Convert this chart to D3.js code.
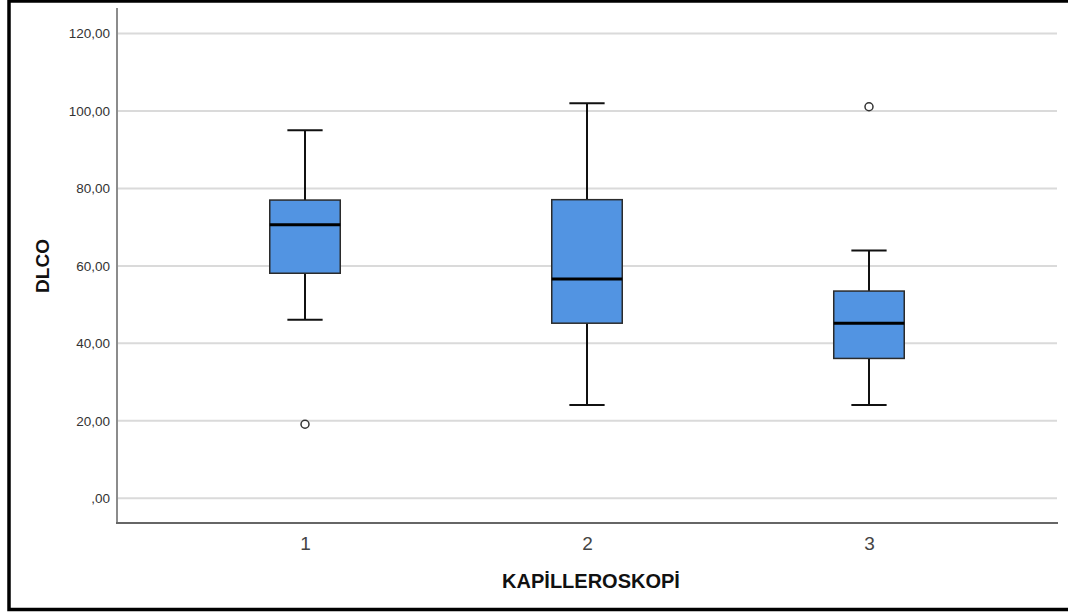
<!DOCTYPE html>
<html>
<head>
<meta charset="utf-8">
<script src="https://cdn.jsdelivr.net/npm/d3@7"></script>
<style>
    body { margin: 0; background: #fff; }
    svg { display: block; font-family: "Liberation Sans", Arial, sans-serif; }
</style>
</head>
<body>
<script>
// KAPİLLEROSKOPİ groups
var categories = ["1", "2", "3"];

// box plot summaries (DLCO)
var lowWhisker = [46.1, 24.1, 24.1];
var q1 = [58.1, 45.2, 36.1];
var median = [70.6, 56.6, 45.2];
var q3 = [77.0, 77.1, 53.5];
var highWhisker = [95.0, 102.0, 64.0];
var outliers = [[19.1], [], [101.1]];

var yTicks = [0, 20, 40, 60, 80, 100, 120];

var w = 1068,
    h = 612,
    plotLeft = 117,
    plotRight = 1057,
    plotTop = 8,
    plotBottom = 523;

var svg = d3.select("body").append("svg")
    .attr("width", w)
    .attr("height", h);

var xScale = d3.scalePoint()
    .domain(categories)
    .range([plotLeft, plotRight])
    .padding(0.6667);

var yScale = d3.scaleLinear()
    .domain([-6.4, 126.6])
    .range([plotBottom, plotTop]);

var boxW = xScale.step() * 0.25;

var commaFmt = d3.formatLocale({decimal: ",", thousands: ".", grouping: [3], currency: ["", ""]}).format(".2f");
function tickFmt(d) {
    var s = commaFmt(d);
    return s.indexOf("0,") === 0 ? s.substr(1) : s;
}

// grid
svg.append("g").selectAll("line")
    .data(yTicks)
    .enter().append("line")
    .attr("x1", plotLeft)
    .attr("x2", plotRight)
    .attr("y1", function (d) { return yScale(d); })
    .attr("y2", function (d) { return yScale(d); })
    .attr("stroke", "#dadada")
    .attr("stroke-width", 2);

// y axis
var yAxisGen = d3.axisLeft(yScale).tickValues(yTicks).tickFormat(tickFmt).tickSize(0).tickPadding(7);
var yAxis = svg.append("g")
    .attr("transform", "translate(" + plotLeft + ",0)")
    .call(yAxisGen);
yAxis.select(".domain").remove();
yAxis.selectAll("text")
    .attr("fill", "#333")
    .style("font-size", "13.5px");

svg.append("line")
    .attr("x1", plotLeft).attr("x2", plotLeft)
    .attr("y1", plotTop).attr("y2", plotBottom)
    .attr("stroke", "#8c8c8c")
    .attr("stroke-width", 2);

// x axis
var xAxisGen = d3.axisBottom(xScale).tickSize(0).tickPadding(14);
var xAxis = svg.append("g")
    .attr("transform", "translate(0," + plotBottom + ")")
    .call(xAxisGen);
xAxis.select(".domain").remove();
xAxis.selectAll("text")
    .attr("fill", "#444")
    .style("font-size", "19px");

svg.append("line")
    .attr("x1", plotLeft - 1).attr("x2", plotRight + 1)
    .attr("y1", plotBottom).attr("y2", plotBottom)
    .attr("stroke", "#666")
    .attr("stroke-width", 2);

// boxes
var groups = svg.append("g").selectAll("g")
    .data(categories)
    .enter().append("g");

// whisker stems
groups.append("line")
    .attr("x1", function (d) { return xScale(d); })
    .attr("x2", function (d) { return xScale(d); })
    .attr("y1", function (d, i) { return yScale(highWhisker[i]); })
    .attr("y2", function (d, i) { return yScale(q3[i]); })
    .attr("stroke", "#111").attr("stroke-width", 2);
groups.append("line")
    .attr("x1", function (d) { return xScale(d); })
    .attr("x2", function (d) { return xScale(d); })
    .attr("y1", function (d, i) { return yScale(q1[i]); })
    .attr("y2", function (d, i) { return yScale(lowWhisker[i]); })
    .attr("stroke", "#111").attr("stroke-width", 2);

// caps
[highWhisker, lowWhisker].forEach(function (arr) {
    groups.append("line")
        .attr("x1", function (d) { return xScale(d) - boxW / 4; })
        .attr("x2", function (d) { return xScale(d) + boxW / 4; })
        .attr("y1", function (d, i) { return yScale(arr[i]); })
        .attr("y2", function (d, i) { return yScale(arr[i]); })
        .attr("stroke", "#111").attr("stroke-width", 2);
});

groups.append("rect")
    .attr("x", function (d) { return xScale(d) - boxW / 2; })
    .attr("y", function (d, i) { return yScale(q3[i]); })
    .attr("width", boxW)
    .attr("height", function (d, i) { return yScale(q1[i]) - yScale(q3[i]); })
    .attr("fill", "#5294e2")
    .attr("stroke", "#2b2b2b")
    .attr("stroke-width", 1.5);

groups.append("line")
    .attr("x1", function (d) { return xScale(d) - boxW / 2; })
    .attr("x2", function (d) { return xScale(d) + boxW / 2; })
    .attr("y1", function (d, i) { return yScale(median[i]); })
    .attr("y2", function (d, i) { return yScale(median[i]); })
    .attr("stroke", "#000").attr("stroke-width", 3);

// outliers
groups.selectAll("circle")
    .data(function (d, i) { return outliers[i].map(function (v) { return {cat: d, v: v}; }); })
    .enter().append("circle")
    .attr("cx", function (d) { return xScale(d.cat); })
    .attr("cy", function (d) { return yScale(d.v); })
    .attr("r", 4)
    .attr("fill", "#fff")
    .attr("stroke", "#333")
    .attr("stroke-width", 1.5);

// titles
svg.append("text")
    .attr("x", (plotLeft + plotRight) / 2 + 4)
    .attr("y", 588)
    .attr("text-anchor", "middle")
    .attr("font-weight", "bold")
    .style("font-size", "20px")
    .attr("fill", "#111")
    .text("KAPİLLEROSKOPİ");

svg.append("text")
    .attr("transform", "translate(49,266) rotate(-90)")
    .attr("text-anchor", "middle")
    .attr("font-weight", "bold")
    .style("font-size", "19px")
    .attr("fill", "#111")
    .text("DLCO");

// outer frame
svg.append("rect")
    .attr("x", 9)
    .attr("y", 1)
    .attr("width", w + 20)
    .attr("height", 608.5)
    .attr("fill", "none")
    .attr("stroke", "#000")
    .attr("stroke-width", 3.5);
</script>
</body>
</html>
